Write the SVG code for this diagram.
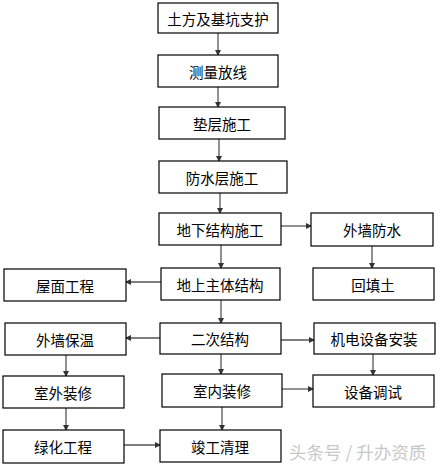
<svg xmlns="http://www.w3.org/2000/svg" width="440" height="467" viewBox="0 0 440 467">
<defs>
<marker id="ah" markerWidth="6" markerHeight="6" refX="5" refY="3" orient="auto" markerUnits="userSpaceOnUse">
<path d="M0,0 L6,3 L0,6 Z" fill="#333"/>
</marker>
<style>
.box{fill:#fff;stroke:#000;stroke-width:1.2}
.t{font-family:"Noto Sans CJK SC","Liberation Sans",sans-serif;font-size:14.5px;fill:#000;text-anchor:middle;dominant-baseline:central}
.c{stroke:#555;stroke-width:1.3;fill:none;marker-end:url(#ah)}
.wm{font-family:"Noto Sans CJK SC","Liberation Sans",sans-serif;font-size:17.5px;fill:#c8c8c8}
</style>
</defs>
<rect width="440" height="467" fill="#fff"/>
<g id="connectors">
<line class="c" x1="218" y1="33" x2="218" y2="55"/>
<line class="c" x1="218" y1="87" x2="218" y2="107"/>
<line class="c" x1="219" y1="139" x2="219" y2="161"/>
<line class="c" x1="220" y1="193" x2="220" y2="213"/>
<line class="c" x1="281" y1="226" x2="311" y2="226"/>
<line class="c" x1="221" y1="245" x2="221" y2="268"/>
<line class="c" x1="372" y1="246" x2="372" y2="268"/>
<line class="c" x1="161" y1="282" x2="126" y2="282"/>
<line class="c" x1="221" y1="300" x2="221" y2="323"/>
<line class="c" x1="160" y1="338" x2="126" y2="338"/>
<line class="c" x1="281" y1="340" x2="314" y2="340"/>
<line class="c" x1="66" y1="355" x2="66" y2="376"/>
<line class="c" x1="221" y1="354" x2="221" y2="374"/>
<line class="c" x1="373" y1="354" x2="373" y2="375"/>
<line class="c" x1="282" y1="389" x2="313" y2="389"/>
<line class="c" x1="66" y1="408" x2="66" y2="430"/>
<line class="c" x1="222" y1="407" x2="222" y2="430"/>
<line class="c" x1="124" y1="445" x2="160" y2="445"/>
</g>
<g id="n1"><rect class="box" x="158" y="3" width="120" height="30"/><text class="t" x="218" y="18">土方及基坑支护</text></g>
<g id="n2"><rect class="box" x="158" y="55" width="120" height="32"/><text class="t" x="218" y="71">测量放线</text></g>
<g id="n3"><rect class="box" x="159" y="107" width="126" height="32"/><text class="t" x="222" y="123">垫层施工</text></g>
<g id="n4"><rect class="box" x="159" y="161" width="128" height="32"/><text class="t" x="222" y="177">防水层施工</text></g>
<g id="n5"><rect class="box" x="159" y="213" width="122" height="32"/><text class="t" x="220" y="229">地下结构施工</text></g>
<g id="n6"><rect class="box" x="311" y="213" width="122" height="33"/><text class="t" x="372" y="229">外墙防水</text></g>
<g id="n7"><rect class="box" x="4" y="269" width="122" height="32"/><text class="t" x="65" y="285">屋面工程</text></g>
<g id="n8"><rect class="box" x="161" y="268" width="119" height="32"/><text class="t" x="220" y="284">地上主体结构</text></g>
<g id="n9"><rect class="box" x="313" y="268" width="121" height="32"/><text class="t" x="373" y="284">回填土</text></g>
<g id="n10"><rect class="box" x="5" y="323" width="121" height="32"/><text class="t" x="65" y="339">外墙保温</text></g>
<g id="n11"><rect class="box" x="160" y="323" width="121" height="31"/><text class="t" x="220" y="338">二次结构</text></g>
<g id="n12"><rect class="box" x="314" y="323" width="121" height="31"/><text class="t" x="374" y="338">机电设备安装</text></g>
<g id="n13"><rect class="box" x="3" y="376" width="121" height="32"/><text class="t" x="63" y="392">室外装修</text></g>
<g id="n14"><rect class="box" x="162" y="374" width="120" height="33"/><text class="t" x="222" y="390">室内装修</text></g>
<g id="n15"><rect class="box" x="313" y="375" width="121" height="32"/><text class="t" x="373" y="391">设备调试</text></g>
<g id="n16"><rect class="box" x="3" y="430" width="121" height="33"/><text class="t" x="63" y="446">绿化工程</text></g>
<g id="n17"><rect class="box" x="160" y="430" width="121" height="32"/><text class="t" x="220" y="446">竣工清理</text></g>
<text class="wm" x="289" y="459">头条号 / 升办资质</text>
</svg>
